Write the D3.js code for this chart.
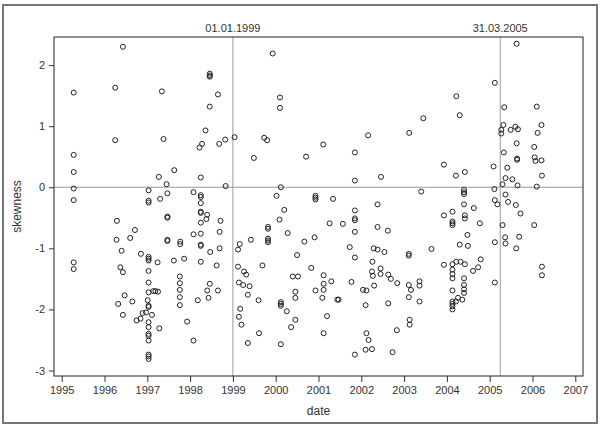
<!DOCTYPE html>
<html>
<head>
<meta charset="utf-8">
<script src="https://cdn.jsdelivr.net/npm/d3@7"></script>
<style>
  html, body { margin: 0; padding: 0; background: #fff; }
  svg { display: block; font-family: "Liberation Sans", Arial, sans-serif; }
</style>
</head>
<body>
<svg id="chart" width="601" height="432"></svg>
<script>
// ---- data (decimal year, skewness) ----
const dates = [
  1995.28,1995.28,1995.28,1995.28,1995.28,1995.28,1995.28,
  1996.25,1996.25,1996.43,1997.34,1997.38,1997.27,
  1997.03,1997.03,1997.03,1997.30,
  1996.29,1996.71,1996.28,1996.60,1996.40,1996.85,
  1997.03,1997.03,1997.03,1997.24,1996.37,1996.43,
  1997.03,1997.03,1997.03,1997.14,1997.19,1997.25,
  1996.47,1996.65,1996.32,1997.01,1997.03,1997.03,
  1996.43,1996.89,1997.11,1996.97,1996.84,1996.75,
  1997.03,1997.03,1997.03,1997.03,1997.03,1997.03,1997.03,1997.03,
  1997.28,1997.47,1997.45,1997.47,1997.47,1997.47,1997.47,
  1997.77,1997.77,1997.62,1997.86,
  1997.76,1997.76,1997.76,1997.76,1997.76,
  1998.46,1998.46,1998.46,1998.65,1998.46,1998.36,1998.28,1998.22,1998.68,1998.82,
  1999.04,1999.73,1999.80,1999.49,1997.63,1998.25,1998.83,1998.08,
  1998.25,1998.25,1998.25,1998.25,1998.25,1998.40,1998.38,1998.25,1998.71,
  1998.08,1998.25,1998.69,1998.25,1998.25,1998.47,1998.69,
  1998.25,1998.62,1998.46,1998.40,1998.65,1998.43,1998.18,1997.93,1998.08,
  1999.16,1999.12,1999.42,1999.12,1999.26,1999.31,1999.69,1999.14,1999.24,1999.39,
  1999.35,1999.60,1999.17,1999.14,1999.20,1999.61,1999.35,
  1999.82,1999.82,1999.82,1999.82,1999.82,
  1999.93,2000.10,2000.10,2002.16,2001.11,2001.85,2000.71,2001.85,2000.12,2000.02,
  2000.93,2000.93,2000.93,2001.34,2000.20,2000.09,
  2001.85,2001.85,2001.85,2001.85,2001.26,2001.57,2000.28,2000.91,2000.67,2000.50,
  2001.73,2001.85,2002.29,2000.83,2000.40,2000.52,2001.12,2001.30,2001.12,2001.77,
  2002.25,2002.26,2000.93,2001.12,2000.46,2000.46,2002.04,2002.12,2002.27,
  2001.44,2001.47,2001.09,2000.12,2000.12,2000.12,2000.26,2002.10,2000.46,2000.36,
  2001.20,2001.12,2002.12,2002.17,2000.12,2002.10,2002.25,2001.85,
  2004.22,2004.30,2003.45,2003.12,2003.93,2004.21,2004.42,2002.46,2003.40,
  2004.40,2004.40,2004.40,2002.38,2004.63,2004.40,2003.93,2004.13,
  2004.13,2004.13,2004.13,2004.42,2004.42,2002.38,2002.62,2004.48,2004.30,2004.49,
  2002.38,2002.54,2003.11,2003.11,2003.64,2003.93,2004.13,2004.22,2004.32,2004.42,
  2004.13,2004.13,2004.13,2004.61,2002.45,2002.45,2002.63,2002.69,2002.84,2002.30,
  2003.11,2003.16,2003.11,2003.36,2003.36,2003.36,2002.63,
  2004.40,2004.40,2004.40,2004.40,2004.13,2004.13,2004.13,2004.13,2004.13,
  2004.21,2004.26,2004.36,2003.13,2003.13,2002.83,2002.73,
  2004.77,2004.79,2004.73,
  2005.63,2005.12,2005.34,2006.10,2006.21,2005.32,2005.27,2005.27,2005.49,2005.60,
  2005.66,2006.12,2005.63,2006.04,2005.33,2005.64,2005.64,2006.05,2006.07,2006.21,
  2005.09,2005.41,2006.22,2005.37,2005.53,2005.30,2005.65,2006.10,2005.11,2005.37,
  2005.12,2005.18,2005.43,2005.61,2005.72,2005.30,2006.04,2005.36,2005.37,2005.69,
  2005.12,2005.62,2006.22,2006.22,2005.12
];
const skewness = [
  1.55,0.53,0.25,-0.02,-0.21,-1.23,-1.34,
  1.63,0.77,2.30,1.57,0.79,0.17,
  -0.05,-0.22,-0.25,-0.19,
  -0.55,-0.70,-0.86,-0.83,-1.04,-1.09,
  -1.14,-1.17,-1.20,-1.23,-1.31,-1.39,
  -1.37,-1.56,-1.72,-1.70,-1.70,-1.71,
  -1.77,-1.87,-1.91,-1.85,-1.94,-1.96,
  -2.09,-2.06,-2.09,-2.05,-2.15,-2.18,
  -2.21,-2.29,-2.40,-2.43,-2.51,-2.74,-2.77,-2.81,
  -2.31,-0.10,0.05,-0.48,-0.50,-0.86,-0.88,
  -0.89,-0.93,-1.20,-1.17,
  -1.46,-1.57,-1.68,-1.80,-1.93,
  1.86,1.83,1.81,1.52,1.32,0.93,0.71,0.65,0.71,0.78,
  0.82,0.81,0.77,0.48,0.28,0.16,0.02,-0.08,
  -0.13,-0.16,-0.26,-0.40,-0.42,-0.45,-0.52,-0.58,-0.55,
  -0.77,-0.76,-0.73,-0.94,-0.96,-1.06,-1.00,
  -1.22,-1.28,-1.58,-1.69,-1.69,-1.81,-1.85,-2.20,-2.51,
  -0.93,-1.02,-0.86,-1.30,-1.38,-1.43,-1.28,-1.56,-1.60,-1.62,
  -1.76,-1.85,-1.99,-2.12,-2.25,-2.39,-2.55,
  -0.65,-0.68,-0.84,-0.87,-0.90,
  2.19,1.47,1.30,0.85,0.70,0.57,0.50,0.11,0.00,-0.14,
  -0.14,-0.17,-0.20,-0.19,-0.37,-0.53,
  -0.38,-0.51,-0.54,-0.73,-0.59,-0.60,-0.75,-0.82,-0.89,-1.11,
  -0.98,-1.15,-1.00,-1.32,-1.46,-1.46,-1.44,-1.54,-1.58,-1.55,
  -1.38,-1.22,-1.69,-1.68,-1.71,-1.81,-1.68,-1.69,-1.45,
  -1.84,-1.84,-1.81,-1.88,-1.91,-1.94,-2.03,-1.93,-2.17,-2.29,
  -2.11,-2.39,-2.39,-2.50,-2.57,-2.66,-2.65,-2.74,
  1.49,1.18,1.13,0.89,0.37,0.19,0.25,0.17,-0.07,
  -0.04,-0.08,-0.11,-0.28,-0.34,-0.28,-0.46,-0.40,
  -0.56,-0.59,-0.62,-0.46,-0.51,-0.65,-0.71,-0.78,-0.94,-0.96,
  -1.02,-1.06,-1.09,-1.12,-1.01,-1.27,-1.26,-1.22,-1.22,-1.26,
  -1.35,-1.42,-1.49,-1.37,-1.33,-1.42,-1.43,-1.50,-1.57,-1.61,
  -1.60,-1.68,-1.80,-1.54,-1.61,-1.87,-1.90,
  -1.49,-1.60,-1.67,-1.73,-1.69,-1.87,-1.91,-1.95,-2.00,
  -1.87,-1.81,-1.84,-2.17,-2.25,-2.34,-2.70,
  -0.59,-1.18,-1.31,
  2.35,1.71,1.31,1.32,1.02,1.02,0.94,0.88,0.94,0.99,
  0.95,0.89,0.72,0.66,0.57,0.47,0.45,0.49,0.43,0.44,
  0.34,0.32,0.19,0.15,0.13,0.05,0.03,0.01,-0.03,-0.12,
  -0.21,-0.28,-0.24,-0.29,-0.43,-0.62,-0.62,-0.82,-0.92,-0.81,
  -0.90,-1.00,-1.30,-1.44,-1.56
];
const xTicks = [1995,1996,1997,1998,1999,2000,2001,2002,2003,2004,2005,2006,2007];
const yTicks = [-3,-2,-1,0,1,2];
const refDates = [1999.0, 2005.246];
const refLabels = ["01.01.1999", "31.03.2005"];

// ---- layout ----
const svg = d3.select("#chart");
const plot = { left: 54, top: 37, right: 583, bottom: 376 };
const x = d3.scaleLinear().domain([1994.82, 2007.18]).range([plot.left, plot.right]);
const y = d3.scaleLinear().domain([-3.09, 2.46]).range([plot.bottom, plot.top]);
const textColor = "#333";

// outer frame
svg.append("rect").attr("x", 3).attr("y", 5).attr("width", 594).attr("height", 418)
  .attr("fill", "none").attr("stroke", "#777").attr("stroke-width", 2);

// reference lines
svg.append("line").attr("x1", plot.left).attr("x2", plot.right)
  .attr("y1", y(0)).attr("y2", y(0)).attr("stroke", "#999").attr("stroke-width", 1);
svg.selectAll(".vref").data(refDates).enter().append("line")
  .attr("x1", d => x(d)).attr("x2", d => x(d))
  .attr("y1", plot.top).attr("y2", plot.bottom)
  .attr("stroke", "#999").attr("stroke-width", 1);
svg.selectAll(".vlab").data(refDates).enter().append("text")
  .attr("x", d => x(d)).attr("y", 32).attr("text-anchor", "middle")
  .attr("font-size", 11).attr("fill", textColor)
  .text((d, i) => refLabels[i]);

// points
const pts = dates.map((d, i) => ({ d, v: skewness[i] }));
svg.append("g").selectAll("circle").data(pts).enter().append("circle")
  .attr("cx", p => x(p.d)).attr("cy", p => y(p.v)).attr("r", 2.5)
  .attr("fill", "none").attr("stroke", "#222").attr("stroke-width", 1);

// axes
const xAxis = svg.append("g").attr("transform", `translate(0,${plot.bottom})`)
  .call(d3.axisBottom(x).tickValues(xTicks).tickFormat(d3.format("d")).tickSize(6).tickPadding(4));
const yAxis = svg.append("g").attr("transform", `translate(${plot.left},0)`)
  .call(d3.axisLeft(y).tickValues(yTicks).tickFormat(d => String(d)).tickSize(5).tickPadding(4));
[xAxis, yAxis].forEach(a => {
  a.select(".domain").remove();
  a.selectAll("line").attr("stroke", "#333");
  a.selectAll("text").attr("font-size", 11).attr("fill", textColor)
    .attr("font-family", "Liberation Sans, Arial, sans-serif");
});

// plot frame
svg.append("rect").attr("x", plot.left).attr("y", plot.top)
  .attr("width", plot.right - plot.left).attr("height", plot.bottom - plot.top)
  .attr("fill", "none").attr("stroke", "#222").attr("stroke-width", 1);

// axis titles
svg.append("text").attr("x", (plot.left + plot.right) / 2).attr("y", 415)
  .attr("text-anchor", "middle").attr("font-size", 12).attr("fill", textColor).text("date");
svg.append("text").attr("transform", `translate(21,${(plot.top + plot.bottom) / 2}) rotate(-90)`)
  .attr("text-anchor", "middle").attr("font-size", 12).attr("fill", textColor).text("skewness");
</script>
</body>
</html>
